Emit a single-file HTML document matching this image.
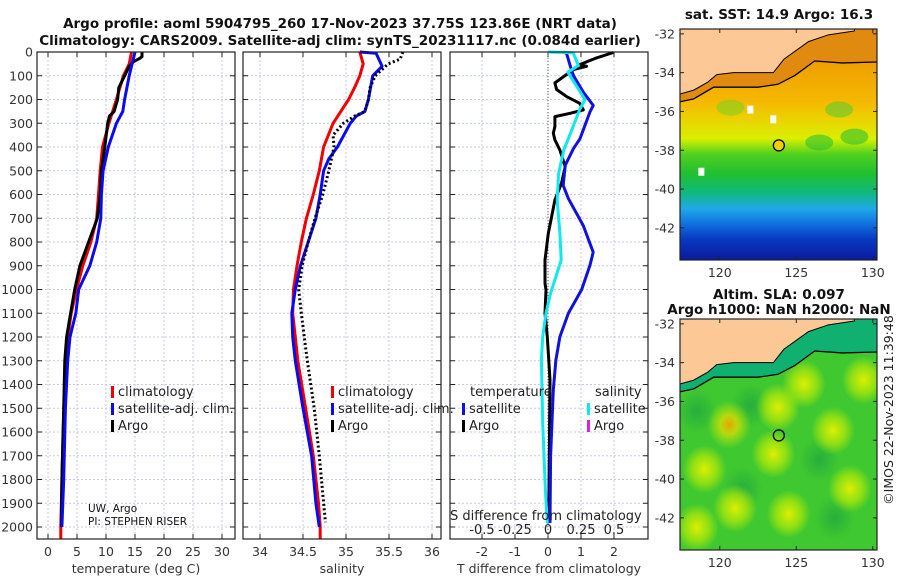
<!DOCTYPE html>
<html><head><meta charset="utf-8"><style>
body{margin:0;background:#fff;}
svg{display:block;font-family:"DejaVu Sans","Liberation Sans",sans-serif;}
.tk{font-size:12.5px;fill:#333;}
.ttl{font-size:13.5px;font-weight:bold;fill:#111;}
.lg{font-size:13px;fill:#222;}
</style></head><body>
<svg id="fig" width="900" height="580" viewBox="0 0 900 580">
<defs>
<radialGradient id="blobY"><stop offset="0" stop-color="#e8f000" stop-opacity="0.95"/><stop offset="0.55" stop-color="#c8f000" stop-opacity="0.6"/><stop offset="1" stop-color="#c8f000" stop-opacity="0"/></radialGradient>
<radialGradient id="blobO"><stop offset="0" stop-color="#f0a000" stop-opacity="0.95"/><stop offset="0.4" stop-color="#e8e000" stop-opacity="0.7"/><stop offset="1" stop-color="#c8f000" stop-opacity="0"/></radialGradient>
<radialGradient id="blobG"><stop offset="0" stop-color="#20a840" stop-opacity="0.8"/><stop offset="1" stop-color="#20a840" stop-opacity="0"/></radialGradient>
</defs>
<text class="ttl" x="340" y="28" text-anchor="middle">Argo profile: aoml 5904795_260 17-Nov-2023 37.75S 123.86E (NRT data)</text>
<text class="ttl" x="340" y="45" text-anchor="middle">Climatology: CARS2009. Satellite-adj clim: synTS_20231117.nc (0.084d earlier)</text>
<g id="panels"></g>
<g id="maps"></g>
<text x="893" y="410" font-size="12.5" fill="#222" text-anchor="middle" transform="rotate(-90 893 410)">©IMOS 22-Nov-2023 11:39:48</text>
</svg>
<script>
// ---------- data ----------
const depthTicks=[0,100,200,300,400,500,600,700,800,900,1000,1100,1200,1300,1400,1500,1600,1700,1800,1900,2000];
const tempTicks=[0,5,10,15,20,25,30];
const salTicks=[34,34.5,35,35.5,36];
const salTickLabels=["34","34.5","35","35.5","36"];
const tdiffTicks=[-2,-1,0,1,2];
const sdiffTicks=[-0.5,-0.25,0,0.25,0.5];
const sdiffTickLabels=["-0.5","-0.25","0","0.25","0.5"];

const tClimDepth=[0,50,100,200,300,400,500,600,700,800,900,1000,1100,1200,1400,1600,2000,2050];
const tClimVal=[14.4,14,13,11.8,10.5,9.4,9,8.7,8.4,7.4,6,4.9,4,3.4,2.9,2.6,2.2,2.2];
const tSatDepth=[0,100,200,250,300,400,500,600,700,800,900,1000,1100,1200,1300,1500,1800,2000];
const tSatVal=[15,14,13.2,12.9,11.8,10.4,9.5,9.2,9.1,8.4,7.2,5.3,4.8,3.8,3.4,3,2.7,2.4];
const tArgoDepth=[0,20,30,40,60,100,150,200,250,270,300,400,500,600,700,800,900,1000,1100,1200,1300,1500,1800,2000];
const tArgoVal=[16.2,16.2,15.6,14.8,14,13.2,12.2,12,11.4,10.6,10.3,9.8,9.2,9,8.5,7,5.5,4.6,3.9,3.2,2.9,2.7,2.4,2.3];

const sClimDepth=[0,50,100,150,200,300,400,500,600,700,800,900,1000,1100,1200,1300,1500,1700,1900,2000,2050];
const sClimVal=[35.16,35.2,35.16,35.1,35.03,34.85,34.74,34.69,34.62,34.54,34.48,34.43,34.39,34.38,34.41,34.44,34.53,34.62,34.68,34.7,34.7];
const sSatDepth=[0,5,60,100,200,250,270,300,400,450,500,600,700,800,900,1000,1100,1200,1300,1500,1700,1900,2000];
const sSatVal=[35.16,35.35,35.42,35.31,35.26,35.22,35.12,35.05,34.9,34.8,34.74,34.7,34.65,34.56,34.47,34.41,34.37,34.38,34.41,34.5,34.6,34.65,34.69];
const sArgoDepth=[0,30,50,80,100,150,200,250,270,300,350,400,500,600,700,800,900,1000,1100,1300,1500,1700,1980];
const sArgoVal=[35.66,35.63,35.49,35.4,35.34,35.28,35.26,35.22,35.1,34.97,34.85,34.86,34.8,34.73,34.64,34.56,34.49,34.45,34.48,34.55,34.63,34.69,34.76];

const dtSatDepth=[0,5,57,99,169,225,253,365,407,477,562,618,731,843,899,1000,1040,1099,1199,1297,1423,1703,1983];
const dtSatVal=[0.46,0.56,0.67,0.77,1.07,1.37,1.27,0.97,0.77,0.52,0.46,0.62,1.07,1.37,1.27,1.02,0.86,0.62,0.36,0.24,0.16,0.08,0.06];
const dtArgoDepth=[2,25,53,60,74,130,158,188,216,244,258,272,314,342,370,413,483,553,623,694,764,876,974,1002,1099,1199,1381,1703,1983];
const dtArgoVal=[1.98,1.47,0.96,1.17,0.77,0.21,0.26,0.57,0.96,1.07,0.67,0.21,0.21,0.16,0.21,0.36,0.52,0.41,0.21,0.11,0.01,-0.09,-0.09,-0.06,-0.09,-0.02,0.06,0.04,0.02];
const dsSatDepth=[0,3,57,85,200,242,300,413,511,623,764,876,1016,1099,1199,1297,1562,1844,1983];
const dsSatVal=[0,0.19,0.23,0.15,0.28,0.24,0.2,0.12,0.08,0.07,0.09,0.1,0.02,-0.015,-0.04,-0.05,-0.04,-0.02,-0.005];

// ---------- helpers ----------
const NS="http://www.w3.org/2000/svg";
function mk(tag,attrs,parent){const e=document.createElementNS(NS,tag);for(const k in attrs)e.setAttribute(k,attrs[k]);parent.appendChild(e);return e;}
const Y0=52, PXD=0.2375, YB=539;
const yD=d=>Y0+d*PXD;
const panels=document.getElementById('panels');

function panel(name,x0,x1,xs,ticks,labels,xtitle){
  const g=mk('g',{},panels);
  
  
  ticks.forEach(t=>{const x=xs(t);
    const l=mk('line',{x1:x,x2:x,y1:Y0,y2:YB,stroke:'#c5c9e8','stroke-width':1,'stroke-dasharray':'2,2'},g);
    
    mk('line',{x1:x,x2:x,y1:YB,y2:YB-5,stroke:'#222'},g);mk('line',{x1:x,x2:x,y1:Y0,y2:Y0+5,stroke:'#222'},g);});
  depthTicks.forEach(d=>{const y=yD(d);
    const l=mk('line',{x1:x0,x2:x1,y1:y,y2:y,stroke:'#c5c9e8','stroke-width':1,'stroke-dasharray':'2,2'},g);
    
    mk('line',{x1:x0,x2:x0+5,y1:y,y2:y,stroke:'#222'},g);mk('line',{x1:x1,x2:x1-5,y1:y,y2:y,stroke:'#222'},g);});
  if(labels){ticks.forEach((t,i)=>{const tx=mk('text',{x:xs(t),y:556,'text-anchor':'middle',class:'tk'},g);tx.textContent=labels[i];
    });}
  const tt=mk('text',{x:(x0+x1)/2,y:573,'text-anchor':'middle',class:'tk'},g);tt.textContent=xtitle;
  
  return g;
}
function frame(g,x0,x1){const r=mk('rect',{x:x0,y:Y0,width:x1-x0,height:YB-Y0,fill:'none',stroke:'#222','stroke-width':1.2},g);
  }
function line(g,name,ds,vs,xs,color,dash,w){
  const pts=ds.map((d,i)=>xs(vs[i]).toFixed(1)+','+yD(d).toFixed(1)).join(' ');
  const p=mk('polyline',{points:pts,fill:'none',stroke:color,'stroke-width':w||3,'stroke-linejoin':'round'},g);
  if(dash)p.setAttribute('stroke-dasharray',dash);
  
}
function legend(g,x,y,color,label,name){
  mk('rect',{x:x,y:y-10,width:3,height:12,fill:color},g);
  const t=mk('text',{x:x+7,y:y,class:'lg'},g);t.textContent=label;
  
}
// panel 1 temperature
const xT=v=>48+v*5.8;
let g1=panel('temperature-panel',37,235,xT,tempTicks,tempTicks.map(String),'temperature (deg C)');
depthTicks.forEach(d=>{const t=mk('text',{x:33,y:yD(d)+4.5,'text-anchor':'end',class:'tk'},g1);t.textContent=d;
  });
line(g1,'temp-climatology-line',tClimDepth,tClimVal,xT,'#f00000');
line(g1,'temp-argo-line',tArgoDepth,tArgoVal,xT,'#000');
line(g1,'temp-satellite-line',tSatDepth,tSatVal,xT,'#0a0af0');
frame(g1,37,235);
legend(g1,111,396,'#f00000','climatology','legend-climatology');
legend(g1,111,413,'#0a0af0','satellite-adj. clim.','legend-satellite');
legend(g1,111,430,'#000','Argo','legend-argo');
let pi1=mk('text',{x:88,y:512,'font-size':10.5,fill:'#111'},g1);pi1.textContent='UW, Argo';

let pi2=mk('text',{x:88,y:525,'font-size':10.5,fill:'#111'},g1);pi2.textContent='PI: STEPHEN RISER';


// panel 2 salinity
const xS=v=>260+(v-34)*86;
let g2=panel('salinity-panel',243,441,xS,salTicks,salTickLabels,'salinity');
line(g2,'sal-climatology-line',sClimDepth,sClimVal,xS,'#f00000');
line(g2,'sal-satellite-line',sSatDepth,sSatVal,xS,'#0a0af0');
line(g2,'sal-argo-line',sArgoDepth,sArgoVal,xS,'#000','2,2.5');
frame(g2,243,441);
legend(g2,331,396,'#f00000','climatology','legend-climatology');
legend(g2,331,413,'#0a0af0','satellite-adj. clim.','legend-satellite');
legend(g2,331,430,'#000','Argo','legend-argo');

// panel 3 differences
const xDT=v=>548+v*33;
const xDS=v=>548+v*132;
let g3=panel('difference-panel',450,648,xDT,tdiffTicks,tdiffTicks.map(String),'T difference from climatology');
const zl=mk('line',{x1:548,x2:548,y1:Y0,y2:YB,stroke:'#555','stroke-width':1,'stroke-dasharray':'1,2'},g3);

line(g3,'tdiff-argo-line',dtArgoDepth,dtArgoVal,xDT,'#000');
line(g3,'tdiff-satellite-line',dtSatDepth,dtSatVal,xDT,'#1010e0');
line(g3,'sdiff-satellite-line',dsSatDepth,dsSatVal,xDS,'#10e8f0');
frame(g3,450,648);
let sdt=mk('text',{x:450,y:520,class:'lg'},g3);sdt.textContent='S difference from climatology';

sdiffTicks.forEach((v,i)=>{const t=mk('text',{x:xDS(v),y:534,'text-anchor':'middle',class:'lg'},g3);t.textContent=sdiffTickLabels[i];
  });
let lt=mk('text',{x:470,y:396,class:'lg'},g3);lt.textContent='temperature';

let ls=mk('text',{x:595,y:396,class:'lg'},g3);ls.textContent='salinity';

legend(g3,462,413,'#1010e0','satellite','legend-t-satellite');
legend(g3,462,430,'#000','Argo','legend-t-argo');
legend(g3,587,413,'#10e8f0','satellite','legend-s-satellite');
legend(g3,587,430,'#e020e0','Argo','legend-s-argo');

// ---------- maps ----------
const maps=document.getElementById('maps');
const lonTicks=[120,125,130];
const latTicks=[-32,-34,-36,-38,-40,-42];
const coastLon=[117.4,118.3,119.2,119.8,120.9,122.5,123.5,124.0,124.2,125.8,127.1,128.8];
const coastLat=[-35.1,-34.9,-34.5,-34.1,-34.0,-34.0,-34.0,-33.5,-33.3,-32.4,-32.05,-31.85];
const contLon=[117.4,118.3,119.6,122.5,123.8,124.9,126.2,128.0,130.3];
const contLat=[-35.5,-35.35,-34.75,-34.75,-34.6,-34.15,-33.4,-33.5,-33.45];
const argoLon=123.86, argoLat=-37.75;
const sstLat=[-31.75,-34.2,-35.5,-36.6,-37.4,-38.2,-39.2,-40.2,-41.0,-41.8,-42.6,-43.6];
const sstColor=['#e88a00','#f0a800','#f5b800','#e8d800','#d8f000','#50d020','#20c030','#10b880','#20a8e8','#1070e0','#0838c0','#0a1ca0'];
const slaBlobLon=[125.5,129.4,120.6,123.8,119.0,127.4,123.5,121.0,124.5,128.5,118.5];
const slaBlobLat=[-35.1,-34.9,-37.2,-36.3,-39.5,-37.5,-38.7,-41.5,-41.8,-40.5,-42.5];
const slaBlobFill=['blobY','blobY','blobO','blobY','blobY','blobY','blobY','blobY','blobY','blobY','blobY'];
const slaDarkLon=[122.0,118.5,126.5,121.5,127.5];
const slaDarkLat=[-36.2,-36.5,-39.0,-40.5,-42.0];

function map(name,ty,title1,title2,kind){
  const X0=680,X1=877,Y1=ty,Y2=ty+231;
  const mx=lon=>X0+(lon-117.4)*15.3;
  const my=lat=>Y1+(-31.75-lat)*19.4;
  const g=mk('g',{},maps);
  
  const cid='clip'+name;
  const cp=mk('clipPath',{id:cid},g);mk('rect',{x:X0,y:Y1,width:X1-X0,height:Y2-Y1},cp);
  const inner=mk('g',{'clip-path':'url(#'+cid+')'},g);
  const sh=contLon.map((lo,i)=>mx(lo)+','+my(contLat[i])).join(' ');
  if(kind==='sst'){
    const gid='grad'+name;const lg=mk('linearGradient',{id:gid,x1:0,y1:0,x2:0,y2:1},g);
    sstLat.forEach((la,i)=>mk('stop',{offset:((my(la)-Y1)/(Y2-Y1)).toFixed(3),'stop-color':sstColor[i]},lg));
    const r=mk('rect',{x:X0,y:Y1,width:X1-X0,height:Y2-Y1,fill:'url(#'+gid+')'},inner);
    
    [[120.7,-35.8,'#80d020'],[127.8,-35.9,'#60c830'],[126.5,-37.6,'#30c030'],[128.8,-37.3,'#30c030']].forEach(p=>{
      mk('ellipse',{cx:mx(p[0]),cy:my(p[1]),rx:14,ry:8,fill:p[2],opacity:0.6},inner);});
    [[121.8,-35.7],[123.3,-36.2],[118.6,-38.9]].forEach(p=>mk('rect',{x:mx(p[0]),y:my(p[1]),width:6,height:8,fill:'#fff'},inner));
    mk('polygon',{points:mx(117.4)+','+Y1+' '+sh+' '+X1+','+Y1,fill:'#e08a10'},inner);
  } else {
    const r=mk('rect',{x:X0,y:Y1,width:X1-X0,height:Y2-Y1,fill:'#40c830'},inner);
    
    slaDarkLon.forEach((lo,i)=>mk('ellipse',{cx:mx(lo),cy:my(slaDarkLat[i]),rx:20,ry:22,fill:'url(#blobG)'},inner));
    slaBlobLon.forEach((lo,i)=>{const e=mk('ellipse',{cx:mx(lo),cy:my(slaBlobLat[i]),rx:22,ry:24,fill:'url(#'+slaBlobFill[i]+')'},inner);
      });
    mk('polygon',{points:mx(117.4)+','+Y1+' '+sh+' '+X1+','+Y1,fill:'#10b070'},inner);
  }
  const cs=coastLon.map((lo,i)=>mx(lo)+','+my(coastLat[i])).join(' ');
  const land=mk('polygon',{points:X0+','+Y1+' '+cs+' '+mx(coastLon[coastLon.length-1])+','+Y1,fill:'#fcc896',stroke:'#000','stroke-width':1},inner);
  
  const ct=mk('polyline',{points:sh,fill:'none',stroke:'#000','stroke-width':1.3},inner);
  
  const c=mk('circle',{cx:mx(argoLon),cy:my(argoLat),r:5.5,fill:kind==='sst'?'#f0d000':'none',stroke:'#000','stroke-width':1.3},g);
  
  mk('rect',{x:X0,y:Y1,width:X1-X0,height:Y2-Y1,fill:'none',stroke:'#222','stroke-width':1.2},g);
  lonTicks.forEach(lo=>{const x=mx(lo);mk('line',{x1:x,x2:x,y1:Y2,y2:Y2-4,stroke:'#222'},g);mk('line',{x1:x,x2:x,y1:Y1,y2:Y1+4,stroke:'#222'},g);
    const t=mk('text',{x:x,y:Y2+17,'text-anchor':'middle',class:'tk'},g);t.textContent=lo;
    });
  latTicks.forEach(la=>{const y=my(la);mk('line',{x1:X0,x2:X0+4,y1:y,y2:y,stroke:'#222'},g);mk('line',{x1:X1,x2:X1-4,y1:y,y2:y,stroke:'#222'},g);
    const t=mk('text',{x:X0-5,y:y+4.5,'text-anchor':'end',class:'tk'},g);t.textContent=la;
    });
  const t1=mk('text',{x:779,y:ty-(title2?20:10),'text-anchor':'middle',class:'ttl'},g);t1.textContent=title1;
  
  if(title2){const t2=mk('text',{x:779,y:ty-5,'text-anchor':'middle',class:'ttl'},g);t2.textContent=title2;
    }
}
map('sst-map',29,'sat. SST: 14.9 Argo: 16.3',null,'sst');
map('sla-map',319,'Altim. SLA: 0.097','Argo h1000: NaN h2000: NaN','sla');
</script>
</body></html>
